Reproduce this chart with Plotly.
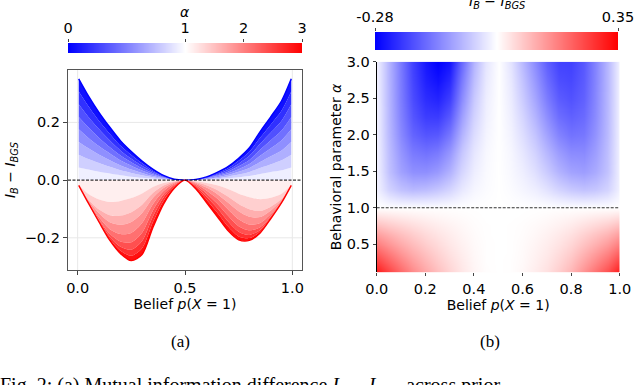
import plotly.graph_objects as go

# prior belief p(X=1) sampled along the x axis
belief = [0.005, 0.05, 0.1, 0.15, 0.2, 0.25, 0.3, 0.35, 0.4, 0.45, 0.5,
          0.55, 0.6, 0.65, 0.7, 0.75, 0.8, 0.85, 0.9, 0.95, 0.995]

# I_B - I_BGS for each behavioural parameter alpha
diff_a0000 = [0.351, 0.292, 0.234, 0.183, 0.136, 0.099, 0.066, 0.038, 0.016, 0.003, 0.0,
              0.002, 0.011, 0.027, 0.047, 0.076, 0.112, 0.168, 0.220, 0.275, 0.351]
diff_a0125 = [0.307, 0.256, 0.205, 0.160, 0.119, 0.087, 0.058, 0.033, 0.014, 0.003, 0.0,
              0.002, 0.010, 0.024, 0.041, 0.067, 0.098, 0.147, 0.193, 0.241, 0.307]
diff_a0250 = [0.263, 0.219, 0.176, 0.137, 0.102, 0.074, 0.050, 0.029, 0.012, 0.002, 0.0,
              0.002, 0.008, 0.020, 0.035, 0.057, 0.084, 0.126, 0.165, 0.206, 0.263]
diff_a0375 = [0.219, 0.183, 0.146, 0.114, 0.085, 0.062, 0.041, 0.024, 0.010, 0.002, 0.0,
              0.001, 0.007, 0.017, 0.029, 0.048, 0.070, 0.105, 0.138, 0.172, 0.219]
diff_a0500 = [0.176, 0.146, 0.117, 0.092, 0.068, 0.050, 0.033, 0.019, 0.008, 0.002, 0.0,
              0.001, 0.006, 0.014, 0.024, 0.038, 0.056, 0.084, 0.110, 0.138, 0.176]
diff_a0625 = [0.132, 0.110, 0.088, 0.069, 0.051, 0.037, 0.025, 0.014, 0.006, 0.001, 0.0,
              0.001, 0.004, 0.010, 0.018, 0.029, 0.042, 0.063, 0.083, 0.103, 0.132]
diff_a0750 = [0.088, 0.073, 0.059, 0.046, 0.034, 0.025, 0.017, 0.010, 0.004, 0.001, 0.0,
              0.001, 0.003, 0.007, 0.012, 0.019, 0.028, 0.042, 0.055, 0.069, 0.088]
diff_a0875 = [0.044, 0.037, 0.029, 0.023, 0.017, 0.012, 0.008, 0.005, 0.002, 0.0, 0.0,
              0.0, 0.001, 0.003, 0.006, 0.010, 0.014, 0.021, 0.028, 0.034, 0.044]
diff_a1000 = [0.0] * 21
diff_a1250 = [-0.016, -0.048, -0.067, -0.076, -0.072, -0.062, -0.046, -0.024, -0.010, -0.004, 0.0,
              -0.004, -0.010, -0.018, -0.031, -0.047, -0.059, -0.066, -0.061, -0.047, -0.016]
diff_a1500 = [-0.018, -0.067, -0.102, -0.122, -0.123, -0.111, -0.085, -0.045, -0.019, -0.006, 0.0,
              -0.007, -0.018, -0.034, -0.057, -0.083, -0.101, -0.107, -0.092, -0.065, -0.018]
diff_a1750 = [-0.018, -0.071, -0.115, -0.146, -0.155, -0.145, -0.114, -0.062, -0.027, -0.008, 0.0,
              -0.009, -0.026, -0.048, -0.078, -0.108, -0.127, -0.128, -0.105, -0.069, -0.018]
diff_a2000 = [-0.018, -0.076, -0.129, -0.170, -0.187, -0.183, -0.149, -0.084, -0.038, -0.012, 0.0,
              -0.013, -0.036, -0.064, -0.101, -0.136, -0.154, -0.149, -0.117, -0.074, -0.018]
diff_a2250 = [-0.018, -0.078, -0.137, -0.186, -0.213, -0.215, -0.182, -0.106, -0.049, -0.016, 0.0,
              -0.017, -0.046, -0.081, -0.123, -0.160, -0.174, -0.163, -0.125, -0.076, -0.018]
diff_a2500 = [-0.018, -0.079, -0.142, -0.197, -0.231, -0.241, -0.211, -0.127, -0.060, -0.019, 0.0,
              -0.021, -0.057, -0.097, -0.143, -0.179, -0.190, -0.173, -0.129, -0.077, -0.018]
diff_a2750 = [-0.018, -0.080, -0.144, -0.204, -0.245, -0.262, -0.236, -0.146, -0.072, -0.024, 0.0,
              -0.025, -0.067, -0.112, -0.160, -0.195, -0.201, -0.179, -0.132, -0.078, -0.018]
diff_a3000 = [-0.018, -0.080, -0.146, -0.209, -0.255, -0.279, -0.258, -0.165, -0.083, -0.028, 0.0,
              -0.030, -0.078, -0.126, -0.175, -0.207, -0.209, -0.183, -0.133, -0.078, -0.018]

alpha_levels = [0.0, 0.125, 0.25, 0.375, 0.5, 0.625, 0.75, 0.875, 1.0,
                1.25, 1.5, 1.75, 2.0, 2.25, 2.5, 2.75, 3.0]
diff_rows = [diff_a0000, diff_a0125, diff_a0250, diff_a0375, diff_a0500, diff_a0625,
             diff_a0750, diff_a0875, diff_a1000, diff_a1250, diff_a1500, diff_a1750,
             diff_a2000, diff_a2250, diff_a2500, diff_a2750, diff_a3000]

alpha_ticks = [0, 1, 2, 3]
heat_min, heat_max = -0.28, 0.35
heat_ticks = [heat_min, heat_max]
belief_ticks = [0.0, 0.2, 0.4, 0.6, 0.8, 1.0]
alpha_axis_ticks = [0.5, 1.0, 1.5, 2.0, 2.5, 3.0]

FONT = "DejaVu Sans"
BWR = [[0, "rgb(0,0,255)"], [0.5, "rgb(255,255,255)"], [1, "rgb(255,0,0)"]]


def two_slope(v, vmin, vcenter, vmax):
    """Map a value to [0, 1] with vcenter at 0.5 (like TwoSlopeNorm)."""
    if v <= vcenter:
        return 0.5 * (v - vmin) / (vcenter - vmin)
    return 0.5 + 0.5 * (v - vcenter) / (vmax - vcenter)


def bwr(t):
    if t <= 0.5:
        v = round(255 * 2 * t)
        return f"rgb({v},{v},255)"
    v = round(255 * (2 - 2 * t))
    return f"rgb(255,{v},{v})"


def a_norm(a):
    return two_slope(a, alpha_levels[0], 1.0, alpha_levels[-1])


fig = go.Figure()

# (a) fan of curves, filled band by band outward from alpha = 1
rows = dict(zip(alpha_levels, diff_rows))
blue_side = sorted([a for a in alpha_levels if a <= 1.0], reverse=True)
red_side = sorted([a for a in alpha_levels if a >= 1.0])
for side in (blue_side, red_side):
    prev = None
    for a in side:
        kw = {}
        if prev is not None:
            kw = dict(fill="tonexty", fillcolor=bwr((a_norm(prev) + a_norm(a)) / 2))
        edge = a in (alpha_levels[0], alpha_levels[-1])
        fig.add_trace(go.Scatter(
            x=belief, y=rows[a], mode="lines",
            line=dict(color=bwr(a_norm(a)), width=1.4 if edge else 0,
                      shape="spline", smoothing=0.8),
            showlegend=False, hoverinfo="skip", xaxis="x", yaxis="y", **kw))
        prev = a

# (b) heatmap over belief and alpha
zero_pos = (0 - heat_min) / (heat_max - heat_min)
fig.add_trace(go.Heatmap(
    x=belief, y=alpha_levels, z=diff_rows, zmin=heat_min, zmax=heat_max,
    colorscale=[[0, "rgb(0,0,255)"], [zero_pos, "rgb(255,255,255)"], [1, "rgb(255,0,0)"]],
    zsmooth="best", showscale=False, xaxis="x2", yaxis="y2"))

# horizontal colour bars drawn as thin heatmaps
for xa, ya in (("x3", "y3"), ("x4", "y4")):
    fig.add_trace(go.Heatmap(
        x=[0, 1], y=[0, 1], z=[[0, 1], [0, 1]], zmin=0, zmax=1, colorscale=BWR,
        zsmooth="best", showscale=False, hoverinfo="skip", xaxis=xa, yaxis=ya))

W, H = 640, 385


def px_x(a, b):
    return [a / W, b / W]


def px_y(top, bottom):
    return [1 - bottom / H, 1 - top / H]


tick_font = dict(family=FONT, size=14.5, color="black")
title_font = dict(family=FONT, size=14, color="black")
i_diff = "<i>I</i><sub><i>B</i></sub> − <i>I</i><sub><i>BGS</i></sub>"
belief_title = "Belief <i>p</i>(<i>X</i> = 1)"
common = dict(automargin=False, showgrid=False, zeroline=False, tickfont=tick_font)

fig.update_layout(
    width=W, height=H, margin=dict(l=0, r=0, t=0, b=0, autoexpand=False),
    paper_bgcolor="white", plot_bgcolor="white",
    xaxis=dict(domain=px_x(68, 302), anchor="y", range=[-0.045, 1.045],
               tickvals=[0.0, 0.5, 1.0], tickformat=".1f", ticks="outside", ticklen=4,
               showline=True, mirror=True, linecolor="#555", linewidth=1.3,
               title=dict(text=belief_title, font=title_font, standoff=3), **common),
    yaxis=dict(domain=px_y(70, 270), anchor="x", range=[-0.3115, 0.3815],
               tickvals=[-0.2, 0.0, 0.2], tickformat=".1f", ticks="outside", ticklen=4,
               showline=True, mirror=True, linecolor="#555", linewidth=1.3,
               title=dict(text=i_diff, font=title_font, standoff=5), **common),
    xaxis2=dict(domain=px_x(376.7, 619.7), anchor="y2", range=[0, 1],
                tickvals=belief_ticks, tickformat=".1f", ticks="outside", ticklen=3,
                showline=False,
                title=dict(text=belief_title, font=title_font, standoff=3), **common),
    yaxis2=dict(domain=px_y(61.7, 272.3), anchor="x2", range=[0.116, 3.0],
                tickvals=alpha_axis_ticks, tickformat=".1f", ticks="outside", ticklen=3,
                showline=True, linecolor="black", linewidth=1.2,
                title=dict(text="Behavioral parameter <i>α</i>", font=title_font, standoff=1),
                **common),
    xaxis3=dict(domain=px_x(68, 302), anchor="y3", range=[0, 1], side="top",
                tickvals=[a_norm(a) for a in alpha_ticks],
                ticktext=[str(a) for a in alpha_ticks],
                ticks="outside", ticklen=3, showline=False, **common),
    yaxis3=dict(domain=px_y(43, 53), anchor="x3", range=[0, 1], visible=False),
    xaxis4=dict(domain=px_x(375, 618), anchor="y4", range=[0, 1], side="top",
                tickvals=[two_slope(v, heat_min, 0.0, heat_max) for v in heat_ticks],
                ticktext=[f"{v:.2f}" for v in heat_ticks],
                ticks="outside", ticklen=3, showline=False, **common),
    yaxis4=dict(domain=px_y(32, 50), anchor="x4", range=[0, 1], visible=False),
)

# colour bar titles
fig.add_annotation(text="<i>α</i>", xref="x3 domain", yref="paper", x=0.5, y=1 - 12 / H,
                   xanchor="center", yanchor="middle", showarrow=False, font=title_font)
fig.add_annotation(text=i_diff, xref="x4 domain", yref="paper", x=0.5, y=1 - 2 / H,
                   xanchor="center", yanchor="middle", showarrow=False, font=title_font)

# light grid lines of panel (a)
for yv in (-0.2, 0.2):
    fig.add_shape(type="line", xref="x domain", yref="y", x0=0, x1=1, y0=yv, y1=yv,
                  line=dict(color="#e8e8e8", width=1), layer="below")
for xv in (0.0, 1.0):
    fig.add_shape(type="line", xref="x", yref="y domain", x0=xv, x1=xv, y0=0, y1=1,
                  line=dict(color="#e8e8e8", width=1), layer="below")

# reference lines
fig.add_shape(type="line", xref="x domain", yref="y", x0=0, x1=1, y0=0, y1=0,
              line=dict(color="black", width=1, dash="3px,1.5px"))
fig.add_shape(type="line", xref="x2 domain", yref="y2", x0=0, x1=1, y0=1, y1=1,
              line=dict(color="#333", width=1.2, dash="3px,1.5px"))

serif = dict(family="Liberation Serif", size=17, color="black")
fig.add_annotation(text="(a)", x=180 / W, y=1 - 341 / H, xref="paper", yref="paper",
                   xanchor="center", yanchor="middle", showarrow=False, font=serif)
fig.add_annotation(text="(b)", x=490 / W, y=1 - 341 / H, xref="paper", yref="paper",
                   xanchor="center", yanchor="middle", showarrow=False, font=serif)
fig.add_annotation(
    text="Fig. 2: (a) Mutual information difference <i>I<sub>B</sub></i> − <i>I<sub>BGS</sub></i> across prior",
    x=-2 / W, y=1 - 372 / H, xref="paper", yref="paper", xanchor="left", yanchor="top",
    showarrow=False, font=dict(family="Liberation Serif", size=20, color="black"))

# drop the default page margin so the figure sits at the window origin
fig.write_html("out.html", config={"displayModeBar": False},
               post_script="document.body.style.margin='0';document.body.style.overflow='hidden';")
